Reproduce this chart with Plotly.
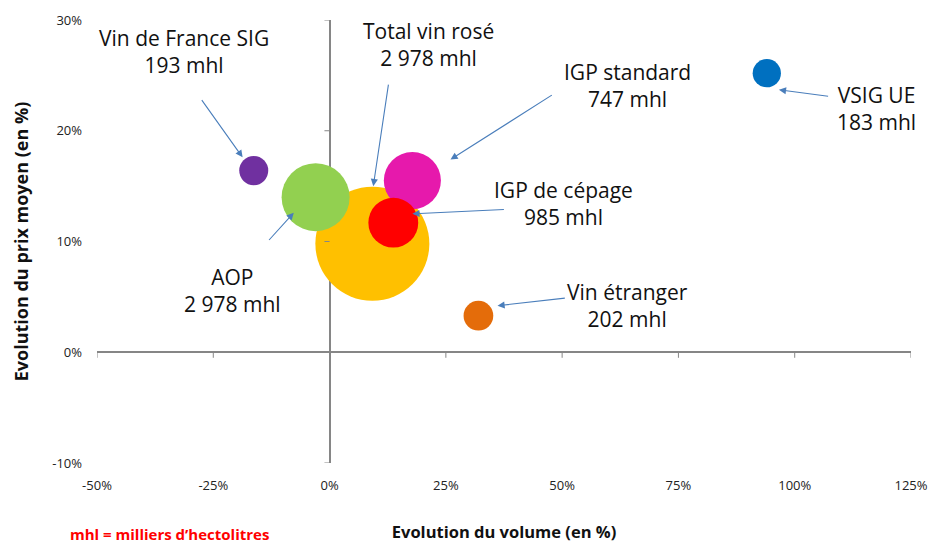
import plotly.graph_objects as go

# ==============================
# Data
# ==============================
segments = ["Total vin rosé", "AOP", "IGP standard", "IGP de cépage",
            "Vin de France SIG", "VSIG UE", "Vin étranger"]
volume_labels = ["2 978 mhl", "2 978 mhl", "747 mhl", "985 mhl",
                 "193 mhl", "183 mhl", "202 mhl"]
evol_volume = [9.2, -3.0, 17.8, 13.7, -16.3, 94.0, 32.0]      # %
evol_prix = [9.8, 14.0, 15.5, 11.7, 16.4, 25.2, 3.3]          # %
bubble_volume = [2978, 1060, 747, 570, 193, 183, 202]         # bubble areas as drawn

x_ticks = [-50, -25, 0, 25, 50, 75, 100, 125]
y_ticks = [-10, 0, 10, 20, 30]

colors = ["#FFC000", "#92D050", "#E619AC", "#FF0000", "#7030A0", "#0070C0", "#E46C0A"]

# label placement in data units: text centre, arrow tail, arrow head
label_pos = {
    "Total vin rosé":    dict(text=(21.2, 27.8), tail=(12.7, 24.3), head=(9.4, 15.0)),
    "AOP":               dict(text=(-20.8, 5.6), tail=(-13.3, 10.0), head=(-7.7, 12.6)),
    "IGP standard":      dict(text=(64.1, 24.1), tail=(48.1, 23.3), head=(26.0, 17.4)),
    "IGP de cépage":     dict(text=(50.2, 13.4), tail=(37.8, 12.9), head=(17.8, 12.5)),
    "Vin de France SIG": dict(text=(-31.3, 27.2), tail=(-27.7, 22.9), head=(-18.7, 17.6)),
    "VSIG UE":           dict(text=(117.6, 22.0), tail=(107.5, 23.1), head=(96.6, 23.7)),
    "Vin étranger":      dict(text=(64.1, 4.25), tail=(50.9, 4.9), head=(36.1, 4.2)),
}

FONT = "Open Sans"
ARROW = "#4A7EBB"
AXIS = "#868686"

fig = go.Figure()
sizeref = 2.0 * max(bubble_volume) / (114 ** 2)
for name, xv, yv, bv, col in zip(segments, evol_volume, evol_prix, bubble_volume, colors):
    fig.add_trace(go.Scatter(
        x=[xv], y=[yv], mode="markers", name=name,
        marker=dict(size=[bv], sizemode="area", sizeref=sizeref, color=col,
                    opacity=1, line=dict(width=0)),
        hovertemplate=f"<b>{name}</b><br>Volume: %{{x}}%<br>Prix: %{{y}}%<extra></extra>",
    ))

# labels + arrows
for name, vl in zip(segments, volume_labels):
    p = label_pos[name]
    fig.add_annotation(x=p["text"][0], y=p["text"][1], xref="x", yref="y",
                       text=f"{name}<br>{vl}", showarrow=False, align="center",
                       font=dict(family=FONT, size=21, color="#111111"))
    fig.add_annotation(x=p["head"][0], y=p["head"][1], xref="x", yref="y",
                       ax=p["tail"][0], ay=p["tail"][1], axref="x", ayref="y",
                       text="", showarrow=True, arrowhead=2, arrowsize=1.3,
                       arrowwidth=1.1, arrowcolor=ARROW, standoff=0)

# footnote
fig.add_annotation(x=-0.0356, y=-0.16, xref="paper", yref="paper",
                   xanchor="left", yanchor="middle",
                   text="<b>mhl = milliers d’hectolitres</b>", showarrow=False,
                   font=dict(family=FONT, size=15, color="#FF0000"))

fig.update_layout(
    width=930, height=545,
    margin=dict(l=97, r=19, t=20, b=82, autoexpand=False),
    paper_bgcolor="white", plot_bgcolor="white",
    showlegend=False,
    font=dict(family=FONT, size=13, color="#222222"),
    xaxis=dict(range=[-50, 125], tickvals=x_ticks, automargin=False,
               ticktext=[f"{v}%" for v in x_ticks],
               showgrid=False, zeroline=True, zerolinecolor=AXIS, zerolinewidth=1.5,
               showline=False, ticks="", ticklabelstandoff=13,
               title=dict(text="<b>Evolution du volume (en %)</b>",
                          font=dict(family=FONT, size=16.5, color="#111111"), standoff=33)),
    yaxis=dict(range=[-10, 30], tickvals=y_ticks, automargin=False,
               ticktext=[f"{v}%" for v in y_ticks],
               showgrid=False, zeroline=True, zerolinecolor=AXIS, zerolinewidth=1.5,
               showline=False, ticks="", ticklabelstandoff=14,
               title=dict(text="<b>Evolution du prix moyen (en %)</b>",
                          font=dict(family=FONT, size=18, color="#111111"), standoff=18)),
)

# small tick marks on the crossing axes
for v in y_ticks:
    fig.add_shape(type="line", xref="x", yref="y", x0=-1.1, x1=0, y0=v, y1=v,
                  line=dict(color=AXIS, width=1))
for v in x_ticks:
    fig.add_shape(type="line", xref="x", yref="y", x0=v, x1=v, y0=0, y1=-0.5,
                  line=dict(color=AXIS, width=1))

# the page's default body margin would push the 930x545 figure off-screen
fig.write_html("out.html", config={"displayModeBar": False},
               post_script="document.body.style.margin='0';")
